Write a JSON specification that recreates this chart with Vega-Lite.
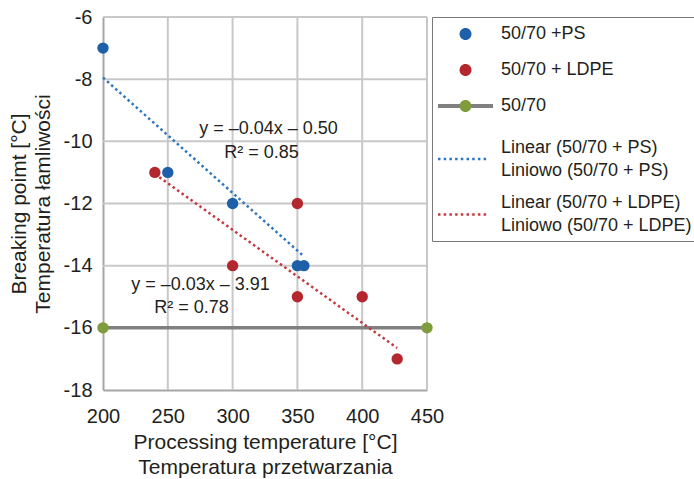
{
  "$schema": "https://vega.github.io/schema/vega-lite/v6.json",
  "width": 324,
  "height": 373,
  "autosize": {"type": "none"},
  "padding": {"left": 103, "top": 17, "right": 267, "bottom": 89},
  "background": "#ffffff",
  "config": {
    "font": "Liberation Sans",
    "view": {"stroke": null},
    "axis": {"grid": false, "ticks": false, "tickSize": 0}
  },
  "data": {"values": [
    {"kind": "gx", "x": 250}, {"kind": "gx", "x": 300}, {"kind": "gx", "x": 350}, {"kind": "gx", "x": 400}, {"kind": "gx", "x": 450},
    {"kind": "gy", "y": -16}, {"kind": "gy", "y": -14}, {"kind": "gy", "y": -12}, {"kind": "gy", "y": -10}, {"kind": "gy", "y": -8}, {"kind": "gy", "y": -6},
    {"kind": "base", "series": "50/70", "x": 200, "y": -16},
    {"kind": "base", "series": "50/70", "x": 450, "y": -16},
    {"kind": "trend", "series": "Linear (50/70 + PS)", "x": 200, "y": -7.95},
    {"kind": "trend", "series": "Linear (50/70 + PS)", "x": 355, "y": -13.7},
    {"kind": "trend", "series": "Linear (50/70 + LDPE)", "x": 240, "y": -11.05},
    {"kind": "trend", "series": "Linear (50/70 + LDPE)", "x": 427, "y": -16.65},
    {"kind": "pt", "series": "50/70 + LDPE", "x": 240, "y": -11},
    {"kind": "pt", "series": "50/70 + LDPE", "x": 300, "y": -14},
    {"kind": "pt", "series": "50/70 + LDPE", "x": 350, "y": -12},
    {"kind": "pt", "series": "50/70 + LDPE", "x": 350, "y": -15},
    {"kind": "pt", "series": "50/70 + LDPE", "x": 400, "y": -15},
    {"kind": "pt", "series": "50/70 + LDPE", "x": 427, "y": -17},
    {"kind": "pt", "series": "50/70 +PS", "x": 200, "y": -7},
    {"kind": "pt", "series": "50/70 +PS", "x": 250, "y": -11},
    {"kind": "pt", "series": "50/70 +PS", "x": 300, "y": -12},
    {"kind": "pt", "series": "50/70 +PS", "x": 350, "y": -14},
    {"kind": "pt", "series": "50/70 +PS", "x": 355, "y": -14},
    {"kind": "ann", "x": 327.7, "y": -9.6, "label": "y = –0.04x – 0.50"},
    {"kind": "ann", "x": 322.3, "y": -10.38, "label": "R² = 0.85"},
    {"kind": "ann", "x": 275.2, "y": -14.62, "label": "y = –0.03x – 3.91"},
    {"kind": "ann", "x": 268.3, "y": -15.36, "label": "R² = 0.78"}
  ]},
  "layer": [
    {
      "transform": [{"filter": "datum.kind == 'gx'"}],
      "mark": {"type": "rule", "color": "#c8c8c8", "strokeWidth": 2, "opacity": 1},
      "encoding": {
        "x": {
          "field": "x", "type": "quantitative",
          "scale": {"domain": [200, 450], "nice": false, "zero": false},
          "axis": {
            "values": [200, 250, 300, 350, 400, 450],
            "labelFlush": false,
            "title": ["Processing temperature [°C]", "Temperatura przetwarzania"],
            "titleFontSize": 21, "titleFontWeight": "normal", "titleColor": "#231f20",
            "titleLineHeight": 25, "titlePadding": 5,
            "labelFontSize": 20, "labelColor": "#231f20", "labelPadding": 16,
            "domainColor": "#a6a6a6", "domainWidth": 2
          }
        }
      }
    },
    {
      "transform": [{"filter": "datum.kind == 'gy'"}],
      "mark": {"type": "rule", "color": "#c8c8c8", "strokeWidth": 2, "opacity": 1},
      "encoding": {
        "y": {
          "field": "y", "type": "quantitative",
          "scale": {"domain": [-18, -6], "nice": false, "zero": false},
          "axis": {
            "values": [-18, -16, -14, -12, -10, -8, -6],
            "labelFlush": false,
            "labelExpr": "datum.value < 0 ? '-' + abs(datum.value) : '' + datum.value",
            "title": ["Breaking poimt [°C]", "Temperatura łamliwości"],
            "titleFontSize": 21, "titleFontWeight": "normal", "titleColor": "#231f20",
            "titleLineHeight": 24, "titlePadding": 10,
            "labelFontSize": 20, "labelColor": "#231f20", "labelPadding": 11,
            "domainColor": "#a6a6a6", "domainWidth": 2
          }
        }
      }
    },
    {
      "transform": [{"filter": "datum.kind == 'base'"}],
      "mark": {"type": "line", "strokeWidth": 3.5, "color": "#808080"},
      "encoding": {
        "x": {"field": "x", "type": "quantitative"},
        "y": {"field": "y", "type": "quantitative"}
      }
    },
    {
      "transform": [{"filter": "datum.kind == 'trend'"}],
      "mark": {"type": "line", "strokeWidth": 2.5, "strokeDash": [2.5, 3]},
      "encoding": {
        "x": {"field": "x", "type": "quantitative"},
        "y": {"field": "y", "type": "quantitative"},
        "color": {
          "field": "series", "type": "nominal",
          "scale": {
            "domain": ["50/70 +PS", "50/70 + LDPE", "50/70", "Linear (50/70 + PS)", "Linear (50/70 + LDPE)"],
            "range": ["#1d5fa9", "#b4272e", {"expr": "{id: 'legendGrayGreen', gradient: 'linear', x1: 0, y1: 0, x2: 1, y2: 0, stops: [{offset: 0, color: '#808080'}, {offset: 0.392, color: '#808080'}, {offset: 0.392, color: '#7f9d3b'}, {offset: 0.608, color: '#7f9d3b'}, {offset: 0.608, color: '#808080'}, {offset: 1, color: '#808080'}]}"}, "#2e75c0", "#c5383f"]
          },
          "legend": {
            "title": null, "orient": "right", "offset": 5, "padding": 6,
            "strokeColor": "#7a7a7a",
            "labelFont": "Liberation Sans", "labelFontSize": 18, "labelColor": "#231f20",
            "labelOffset": 45, "labelLimit": 400, "rowPadding": 14, "symbolSize": 100,
            "labelExpr": "datum.label == 'Linear (50/70 + PS)' ? ['Linear (50/70 + PS)', 'Liniowo (50/70 + PS)'] : datum.label == 'Linear (50/70 + LDPE)' ? ['Linear (50/70 + LDPE)', 'Liniowo (50/70 + LDPE)'] : datum.label",
            "encode": {
              "labels": {"update": {
                "lineHeight": {"value": 23},
                "y": {"signal": "datum.value == 'Linear (50/70 + PS)' ? 28 : datum.value == 'Linear (50/70 + LDPE)' ? 13.5 : 11"},
                "dy": {"signal": "datum.value == 'Linear (50/70 + PS)' || datum.value == 'Linear (50/70 + LDPE)' ? -11.5 : 0"}
              }},
              "symbols": {"update": {
                "x": {"value": 27.5},
                "y": {"signal": "datum.value == 'Linear (50/70 + PS)' ? 28 : datum.value == 'Linear (50/70 + LDPE)' ? 13.5 : 11"},
                "shape": {"signal": "datum.value == '50/70 +PS' || datum.value == '50/70 + LDPE' ? 'M1.2,0A1.2,1.2,0,1,1,-1.2,0A1.2,1.2,0,1,1,1.2,0Z' : datum.value == '50/70' ? 'M-5.5,-0.4H-1.16V0.4H-5.5Z M1.16,-0.4H5.5V0.4H1.16Z M1.2,0A1.2,1.2,0,1,1,-1.2,0A1.2,1.2,0,1,1,1.2,0Z' : 'M-5.5,0H4.5'"},
                "size": {"value": 100},
                "strokeWidth": {"value": 2.5},
                "strokeDash": {"signal": "datum.value == 'Linear (50/70 + PS)' || datum.value == 'Linear (50/70 + LDPE)' ? [2.5, 3.2] : [0, 1000]"},
                "opacity": {"value": 1}
              }}
            }
          }
        }
      }
    },
    {
      "transform": [{"filter": "datum.kind == 'base'"}],
      "mark": {"type": "circle", "size": 130, "opacity": 1, "color": "#7f9d3b"},
      "encoding": {
        "x": {"field": "x", "type": "quantitative"},
        "y": {"field": "y", "type": "quantitative"}
      }
    },
    {
      "transform": [{"filter": "datum.kind == 'pt'"}],
      "mark": {"type": "circle", "size": 130, "opacity": 1},
      "encoding": {
        "x": {"field": "x", "type": "quantitative"},
        "y": {"field": "y", "type": "quantitative"},
        "color": {"field": "series", "type": "nominal"}
      }
    },
    {
      "transform": [{"filter": "datum.kind == 'ann'"}],
      "mark": {"type": "text", "fontSize": 18, "color": "#231f20", "align": "center", "baseline": "middle", "font": "Liberation Sans"},
      "encoding": {
        "x": {"field": "x", "type": "quantitative"},
        "y": {"field": "y", "type": "quantitative"},
        "text": {"field": "label"}
      }
    }
  ]
}
